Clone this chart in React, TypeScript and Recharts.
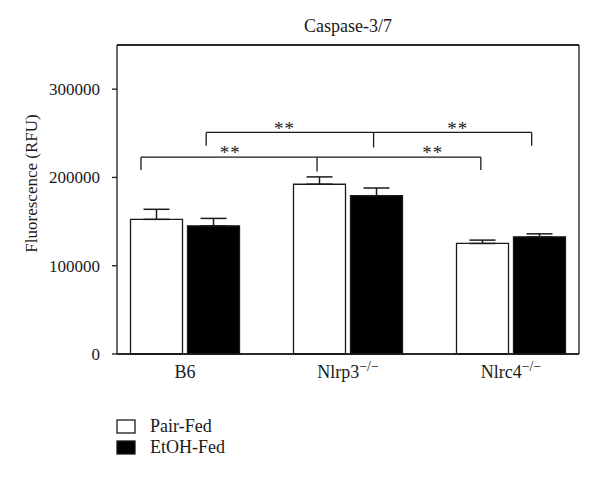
import {
  BarChart,
  Bar,
  XAxis,
  YAxis,
  ErrorBar,
  Legend,
  Label,
  ReferenceLine,
  ReferenceDot,
} from "recharts";

const groups = ["B6", "Nlrp3", "Nlrc4"];
const groupSup = ["", "\u2212/\u2212", "\u2212/\u2212"];
const seriesNames = ["Pair-Fed", "EtOH-Fed"];
const pairFed = [152500, 192300, 125200];
const pairFedErr = [11400, 8300, 3800];
const etohFed = [145200, 179300, 132700];
const etohFedErr = [8400, 8700, 3400];
const yTicks = [0, 100000, 200000, 300000];

// significance brackets, x in category units (0 = B6 centre), y in RFU
const bracketLeft = [-0.27, 0.13];
const bracketMid = [0.81, 1.157];
const bracketRight = [1.815, 2.127];
const bracketTop = [223000, 251000];
const bracketEnd = [208500, 235800];
const bracketMidEnd = [206600, 233900];
const starX = [0.277, 1.52, 0.61, 1.673];
const starY = [233500, 233500, 260800, 260800];

const FONT = "'Liberation Serif', 'DejaVu Serif', serif";
const INK = "#1a1a1a";

const data = groups.map((g, i) => ({
  group: g,
  pos: i,
  pf: pairFed[i],
  pfErr: [0, pairFedErr[i]],
  etoh: etohFed[i],
  etohErr: [0, etohFedErr[i]],
}));

function GroupTick(props: any) {
  const { x, y, index } = props;
  return (
    <text x={x} y={y + 16} textAnchor="middle" fontFamily={FONT} fontSize={18} fill={INK}>
      {groups[index]}
      {groupSup[index] && (
        <tspan dy={-7} fontSize={14}>
          {groupSup[index]}
        </tspan>
      )}
    </text>
  );
}

function LegendBox(props: any) {
  const items = [...(props.payload || [])].sort(
    (a: any, b: any) => seriesNames.indexOf(a.value) - seriesNames.indexOf(b.value)
  );
  return (
    <div style={{ fontFamily: FONT, fontSize: 18, color: INK }}>
      {items.map((it: any) => (
        <div key={it.value} style={{ display: "flex", alignItems: "center", height: 21 }}>
          <svg width={20} height={15} style={{ marginRight: 14 }}>
            <rect x={1} y={1} width={18} height={13} fill={it.color} stroke={INK} strokeWidth={1.3} />
          </svg>
          <span>{it.value}</span>
        </div>
      ))}
    </div>
  );
}

function Star(props: any) {
  return (
    <text x={props.cx} y={props.cy + 11} textAnchor="middle" fontFamily={FONT} fontSize={19} letterSpacing={1} fill={INK}>
      **
    </text>
  );
}

export default function App() {
  const pad = { left: -13.5, right: -13.5 };
  return (
    <div style={{ position: "absolute", left: 0, top: 0 }}>
      <BarChart
        width={600}
        height={481}
        data={data}
        margin={{ top: 44, right: 20, bottom: 97, left: 57 }}
        barSize={52}
        barGap={5}
      >
        <XAxis
          dataKey="group"
          padding={pad}
          tickLine={false}
          tick={<GroupTick />}
          height={30}
          stroke={INK}
          strokeWidth={1.3}
          interval={0}
        />
        <XAxis
          xAxisId="n"
          dataKey="pos"
          type="number"
          orientation="top"
          domain={[-0.5, 2.5]}
          allowDataOverflow
          padding={pad}
          height={1}
          tick={false}
          tickLine={false}
          stroke={INK}
          strokeWidth={1.3}
        >
          <Label
            content={(p: any) => (
              <text
                x={p.viewBox.x + p.viewBox.width / 2}
                y={p.viewBox.y - 12}
                textAnchor="middle"
                fontFamily={FONT}
                fontSize={18}
                fill={INK}
              >
                Caspase-3/7
              </text>
            )}
          />
        </XAxis>
        <YAxis
          domain={[0, 350000]}
          ticks={yTicks}
          width={60}
          tickSize={5}
          tickMargin={12}
          stroke={INK}
          strokeWidth={1.3}
          tick={{ fontFamily: FONT, fontSize: 17, fill: INK }}
        >
          <Label
            content={(p: any) => {
              const cx = p.viewBox.x - 26;
              const cy = p.viewBox.y + p.viewBox.height / 2 - 16;
              return (
                <text
                  x={cx}
                  y={cy}
                  transform={`rotate(-90, ${cx}, ${cy})`}
                  textAnchor="middle"
                  dominantBaseline="central"
                  fontFamily={FONT}
                  fontSize={17}
                  fill={INK}
                >
                  Fluorescence (RFU)
                </text>
              );
            }}
          />
        </YAxis>
        <YAxis
          yAxisId="r"
          orientation="right"
          width={1}
          domain={[0, 1]}
          tick={false}
          tickLine={false}
          stroke={INK}
          strokeWidth={1.3}
        />
        <Legend
          layout="vertical"
          align="center"
          verticalAlign="middle"
          content={<LegendBox />}
          wrapperStyle={{ left: 116, top: 416, width: 200, height: 44 }}
        />
        <Bar dataKey="pf" name={seriesNames[0]} fill="#ffffff" stroke={INK} strokeWidth={1.3} isAnimationActive={false}>
          <ErrorBar dataKey="pfErr" width={13} stroke={INK} strokeWidth={1.5} direction="y" />
        </Bar>
        <Bar dataKey="etoh" name={seriesNames[1]} fill="#000000" stroke={INK} strokeWidth={1.3} isAnimationActive={false}>
          <ErrorBar dataKey="etohErr" width={13} stroke={INK} strokeWidth={1.5} direction="y" />
        </Bar>
        <ReferenceLine y={0} stroke={INK} strokeWidth={1.3} />
        <ReferenceLine y={350000} stroke={INK} strokeWidth={1.3} />
        {bracketTop.map((top, i) => [
          <ReferenceLine
            key={`h${i}`}
            xAxisId="n"
            ifOverflow="visible"
            segment={[
              { x: bracketLeft[i], y: top },
              { x: bracketRight[i], y: top },
            ]}
            stroke={INK}
            strokeWidth={1.3}
          />,
          <ReferenceLine
            key={`l${i}`}
            xAxisId="n"
            ifOverflow="visible"
            segment={[
              { x: bracketLeft[i], y: top },
              { x: bracketLeft[i], y: bracketEnd[i] },
            ]}
            stroke={INK}
            strokeWidth={1.3}
          />,
          <ReferenceLine
            key={`r${i}`}
            xAxisId="n"
            ifOverflow="visible"
            segment={[
              { x: bracketRight[i], y: top },
              { x: bracketRight[i], y: bracketEnd[i] },
            ]}
            stroke={INK}
            strokeWidth={1.3}
          />,
          <ReferenceLine
            key={`m${i}`}
            xAxisId="n"
            ifOverflow="visible"
            segment={[
              { x: bracketMid[i], y: top },
              { x: bracketMid[i], y: bracketMidEnd[i] },
            ]}
            stroke={INK}
            strokeWidth={1.3}
          />,
        ])}
        {starX.map((sx, i) => (
          <ReferenceDot key={`s${i}`} xAxisId="n" ifOverflow="visible" x={sx} y={starY[i]} r={0} shape={<Star />} />
        ))}
      </BarChart>
    </div>
  );
}
